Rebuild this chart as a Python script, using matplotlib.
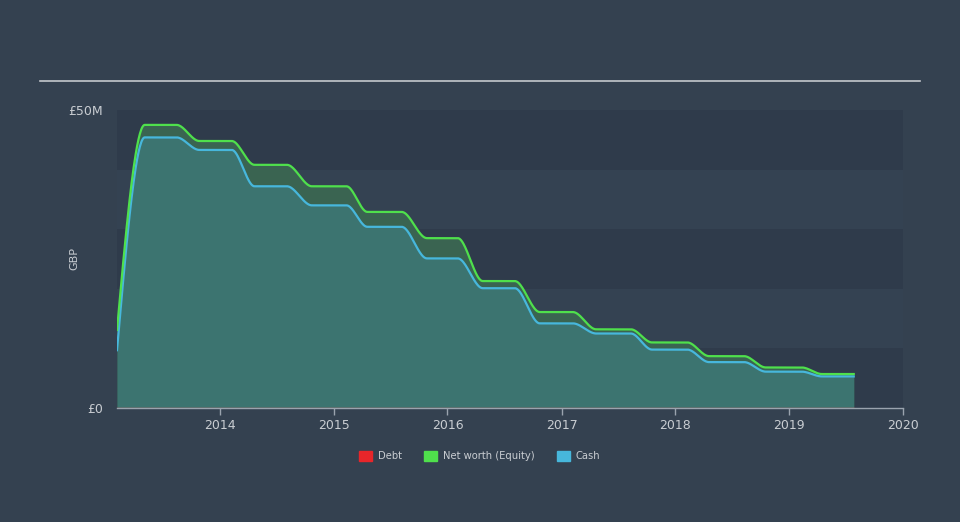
"""
Net worth vs cash history chart (GBP), dark theme.
"""

import matplotlib
matplotlib.use("Agg")
import matplotlib.pyplot as plt
import matplotlib.dates as mdates
from matplotlib.lines import Line2D
from matplotlib.patches import Patch
import numpy as np
import pandas as pd

# Data (GBP millions), plateau start/end points
dates = pd.to_datetime([
    "2013-02-05", "2013-05-05", "2013-08-15", "2013-10-27", "2014-02-08",
    "2014-04-22", "2014-08-04", "2014-10-23", "2015-02-11", "2015-04-19",
    "2015-08-07", "2015-10-27", "2016-02-03", "2016-04-23", "2016-08-04",
    "2016-10-23", "2017-02-06", "2017-04-22", "2017-08-11", "2017-10-18",
    "2018-02-08", "2018-04-19", "2018-08-09", "2018-10-18", "2019-02-10",
    "2019-04-16", "2019-07-27",
])
net_worth = [13.1, 47.5, 47.5, 44.8, 44.8, 40.8, 40.8, 37.2, 37.2, 32.9,
             32.9, 28.5, 28.5, 21.3, 21.3, 16.1, 16.1, 13.2, 13.2, 11.0,
             11.0, 8.7, 8.7, 6.8, 6.8, 5.7, 5.7]
cash = [9.7, 45.4, 45.4, 43.3, 43.3, 37.2, 37.2, 34.0, 34.0, 30.4,
        30.4, 25.1, 25.1, 20.1, 20.1, 14.2, 14.2, 12.5, 12.5, 9.8,
        9.8, 7.7, 7.7, 6.1, 6.1, 5.3, 5.3]
debt = [0.0] * len(dates)

year_ticks = [2014, 2015, 2016, 2017, 2018, 2019, 2020]

BG = "#344150"
BAND_DARK = "#2f3b4b"
BAND_LIGHT = "#344252"
TEXT = "#c9cdd2"
C_DEBT = "#e8262a"
C_EQUITY = "#4fe04c"
C_CASH = "#47b7dc"


def monotone_curve(x, y, n=40):
    """Monotone cubic (d3 curveMonotoneX style) rendering of a polyline."""
    x = np.asarray(x, float)
    y = np.asarray(y, float)
    h = np.diff(x)
    s = np.diff(y) / h
    t = np.zeros_like(y)
    for i in range(1, len(y) - 1):
        if s[i - 1] * s[i] <= 0:
            t[i] = 0.0
        else:
            p = (s[i - 1] * h[i] + s[i] * h[i - 1]) / (h[i - 1] + h[i])
            t[i] = (np.sign(s[i - 1]) + np.sign(s[i])) * min(
                abs(s[i - 1]), abs(s[i]), 0.5 * abs(p))
    t[0] = (3 * s[0] - t[1]) / 2
    t[-1] = (3 * s[-1] - t[-2]) / 2
    xs, ys = [], []
    for i in range(len(h)):
        u = np.linspace(0, 1, n, endpoint=False)
        h00 = 2 * u**3 - 3 * u**2 + 1
        h10 = u**3 - 2 * u**2 + u
        h01 = -2 * u**3 + 3 * u**2
        h11 = u**3 - u**2
        xs.append(x[i] + u * h[i])
        ys.append(h00 * y[i] + h10 * h[i] * t[i] + h01 * y[i + 1] + h11 * h[i] * t[i + 1])
    xs.append([x[-1]])
    ys.append([y[-1]])
    return np.concatenate(xs), np.concatenate(ys)


xnum = mdates.date2num(dates)
xe, ye = monotone_curve(xnum, net_worth)
xc, yc = monotone_curve(xnum, cash)

fig = plt.figure(figsize=(9.6, 5.22), dpi=100, facecolor=BG)
ax = fig.add_axes([117 / 960, 114 / 522, 786 / 960, 298 / 522])
ax.set_facecolor(BG)

x_left = xnum[0]
x_right = mdates.date2num(pd.Timestamp("2020-01-01"))
ax.set_xlim(x_left, x_right)
ax.set_ylim(0, 50)

# alternating horizontal bands
for i, lo in enumerate(range(0, 50, 10)):
    ax.axhspan(lo, lo + 10, color=BAND_DARK if i % 2 == 0 else BAND_LIGHT,
               lw=0, zorder=0)

ax.fill_between(xe, 0, ye, color="#3a6451", lw=0, zorder=1)
ax.fill_between(xc, 0, yc, color="#3c7470", lw=0, zorder=2)
ax.plot(xe, ye, color=C_EQUITY, lw=1.6, zorder=4)
ax.plot(xc, yc, color=C_CASH, lw=1.6, zorder=3)
ax.plot(xnum, debt, color=C_DEBT, lw=1.0, alpha=0.6, zorder=5)

for side in ["top", "right", "left"]:
    ax.spines[side].set_visible(False)
ax.spines["bottom"].set_color("#9aa3ae")
ax.spines["bottom"].set_linewidth(1.0)

ax.set_xticks([mdates.date2num(pd.Timestamp(f"{y}-01-01")) for y in year_ticks])
ax.set_xticklabels([str(y) for y in year_ticks])
ax.tick_params(axis="x", colors="#9aa3ae", labelcolor=TEXT, labelsize=9,
               length=5, width=1, pad=3)
ax.set_yticks([0, 50])
ax.set_yticklabels(["£0", "£50M"])
ax.tick_params(axis="y", length=0, labelcolor=TEXT, labelsize=9, pad=10)
ax.set_ylabel("GBP", color=TEXT, fontsize=8)
ax.yaxis.set_label_coords(-38 / 786, 0.5)

# top rule
fig.add_artist(Line2D([40 / 960, 920 / 960], [1 - 81 / 522, 1 - 81 / 522],
                      color="#c4c8cc", lw=1.2))

handles = [Patch(color=C_DEBT), Patch(color=C_EQUITY), Patch(color=C_CASH)]
fig.legend(handles, ["Debt", "Net worth (Equity)", "Cash"],
           loc="center", bbox_to_anchor=(480 / 960, 1 - 456 / 522), ncol=3,
           frameon=False, fontsize=7.2, labelcolor=TEXT,
           handlelength=1.3, handleheight=1.1, handletextpad=0.6,
           columnspacing=2.2)

fig.savefig("out.png", dpi=100, facecolor=BG)
